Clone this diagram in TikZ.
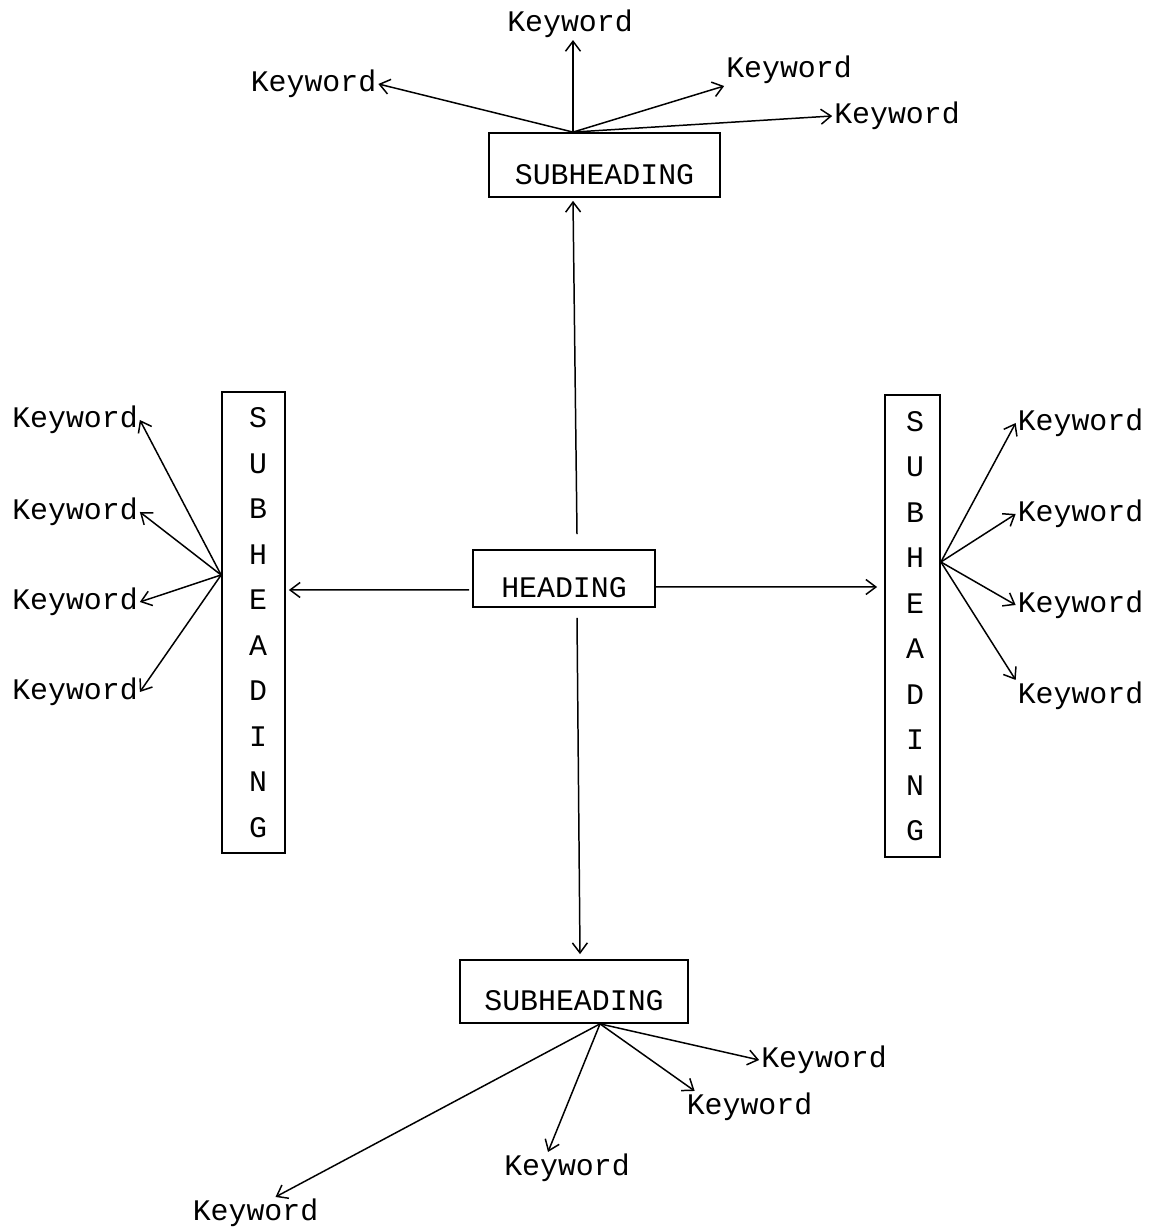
\documentclass[tikz,border=0pt]{standalone}
\usepackage{fontspec}
\newfontfamily\typewriter{Liberation Mono}
\usetikzlibrary{arrows.meta,positioning}

\begin{document}
\begin{tikzpicture}[
    hbox/.style={rectangle, draw, line width=1pt, inner sep=0pt,
                 text height=0.78cm, text depth=0pt,
                 font=\typewriter\fontsize{17}{20}\selectfont},
    vbox/.style={rectangle, draw, line width=1pt, inner sep=0pt, align=center,
                 font=\typewriter\fontsize{17}{25.9}\selectfont},
    kw/.style={inner sep=1pt, font=\typewriter\fontsize{17}{20}\selectfont},
    link/.style={->, line width=0.85pt},
    >={Straight Barb[length=2mm,width=3mm]}
  ]
    \useasboundingbox (0,0) rectangle (23.24,24.6);

    % Heading and the four subheadings
    \node[hbox, minimum width=3.64cm, minimum height=1.14cm] (hd) at (11.28,13.03) {HEADING};
    \node[hbox, minimum width=4.62cm, minimum height=1.28cm] (st) at (12.09,21.30) {SUBHEADING};
    \node[hbox, minimum width=4.56cm, minimum height=1.26cm] (sb) at (11.48,4.77) {SUBHEADING};
    \node[vbox, minimum width=1.26cm, minimum height=9.22cm] (sl) at (5.07,12.15)
      {\hspace*{0.18cm}S\\\hspace*{0.18cm}U\\\hspace*{0.18cm}B\\\hspace*{0.18cm}H\\\hspace*{0.18cm}E\\
       \hspace*{0.18cm}A\\\hspace*{0.18cm}D\\\hspace*{0.18cm}I\\\hspace*{0.18cm}N\\\hspace*{0.18cm}G};
    \node[vbox, minimum width=1.1cm, minimum height=9.24cm] (sr) at (18.25,12.08)
      {\hspace*{0.1cm}S\\\hspace*{0.1cm}U\\\hspace*{0.1cm}B\\\hspace*{0.1cm}H\\\hspace*{0.1cm}E\\
       \hspace*{0.1cm}A\\\hspace*{0.1cm}D\\\hspace*{0.1cm}I\\\hspace*{0.1cm}N\\\hspace*{0.1cm}G};

    % Heading -> subheadings
    \draw[link] ([xshift=0.26cm, yshift=0.3cm]hd.north) -- ([xshift=-0.63cm, yshift=-0.06cm]st.south);
    \draw[link] ([xshift=0.26cm, yshift=-0.2cm]hd.south) -- ([xshift=0.12cm, yshift=0.1cm]sb.north);
    \draw[link] ([xshift=-0.06cm, yshift=-0.23cm]hd.west) -- ([xshift=0.06cm, yshift=0.65cm]sl.east);
    \draw[link] ([yshift=-0.17cm]hd.east) -- ([xshift=-0.14cm, yshift=0.78cm]sr.west);

    % Fan points
    \coordinate (ft) at ([xshift=-0.63cm]st.north);
    \coordinate (fl) at ([yshift=0.95cm]sl.west);
    \coordinate (fr) at ([yshift=1.28cm]sr.east);
    \coordinate (fb) at ([xshift=0.52cm]sb.south);

    % Top keywords
    \node[kw] (t1) at (6.27,22.92) {Keyword};
    \node[kw] (t2) at (11.40,24.12) {Keyword};
    \node[kw] (t3) at (15.78,23.20) {Keyword};
    \node[kw] (t4) at (17.94,22.28) {Keyword};
    \draw[link] (ft) -- (t1.east);
    \draw[link] (ft) -- ([xshift=0.06cm]t2.south);
    \draw[link] (ft) -- (t3.south west);
    \draw[link] (ft) -- (t4.west);

    % Left keywords
    \node[kw] (l1) at (1.50,16.20) {Keyword};
    \node[kw] (l2) at (1.50,14.36) {Keyword};
    \node[kw] (l3) at (1.50,12.56) {Keyword};
    \node[kw] (l4) at (1.50,10.76) {Keyword};
    \foreach \k in {l1,l2,l3,l4}
      \draw[link] (fl) -- (\k.east);

    % Right keywords
    \node[kw] (r1) at (21.61,16.14) {Keyword};
    \node[kw] (r2) at (21.61,14.32) {Keyword};
    \node[kw] (r3) at (21.61,12.50) {Keyword};
    \node[kw] (r4) at (21.61,10.68) {Keyword};
    \foreach \k in {r1,r2,r3}
      \draw[link] (fr) -- (\k.west);
    \draw[link] (fr) -- (r4.north west);

    % Bottom keywords
    \node[kw] (b1) at (16.48,3.40) {Keyword};
    \node[kw] (b2) at (14.99,2.46) {Keyword};
    \node[kw] (b3) at (11.34,1.24) {Keyword};
    \node[kw] (b4) at (5.11,0.34) {Keyword};
    \draw[link] (fb) -- (b1.west);
    \draw[link] (fb) -- ([xshift=0.2cm]b2.north west);
    \draw[link] (fb) -- ([xshift=-0.38cm]b3.north);
    \draw[link] (fb) -- ([xshift=0.4cm]b4.north);
  \end{tikzpicture}
\end{document}
